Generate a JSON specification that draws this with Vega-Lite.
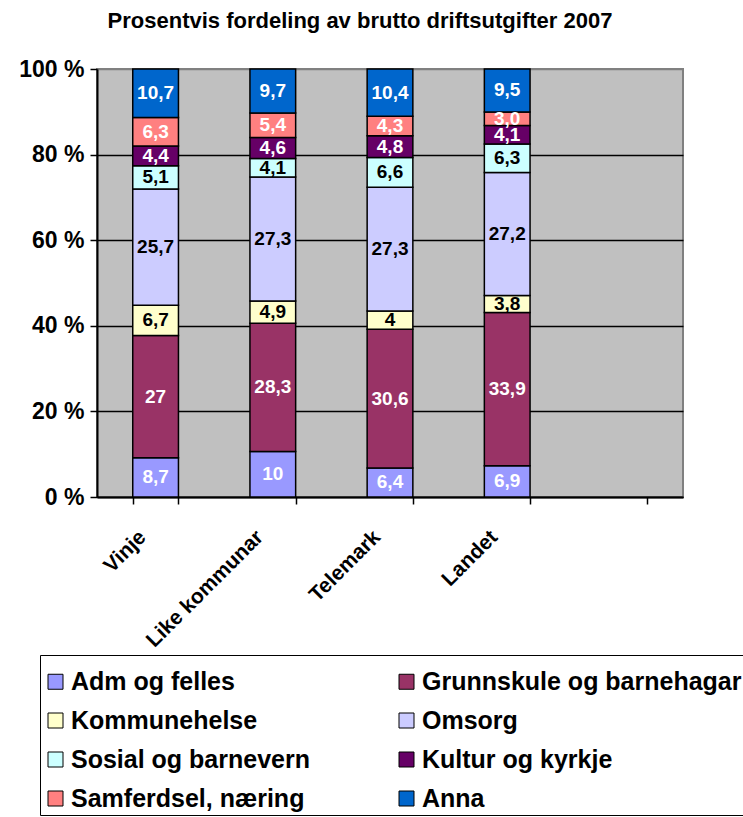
{
  "$schema": "https://vega.github.io/schema/vega-lite/v6.json",
  "autosize": "none",
  "width": 586,
  "height": 428,
  "padding": {"left": 97, "top": 69, "right": 60, "bottom": 320},
  "background": "white",
  "config": {
    "font": "Liberation Sans",
    "view": {"fill": "#C0C0C0", "stroke": "#808080", "strokeWidth": 2}
  },
  "title": {
    "text": "Prosentvis fordeling av brutto driftsutgifter 2007",
    "font": "Liberation Sans",
    "fontSize": 22,
    "fontWeight": "bold",
    "color": "black",
    "anchor": "middle",
    "dx": -30,
    "offset": 25
  },
  "data": {
    "values": [
      {"region": "Vinje", "cat": "Adm og felles", "k": 1, "v": 8.7, "label": "8,7"},
      {"region": "Vinje", "cat": "Grunnskule og barnehagar", "k": 2, "v": 27, "label": "27"},
      {"region": "Vinje", "cat": "Kommunehelse", "k": 3, "v": 6.7, "label": "6,7"},
      {"region": "Vinje", "cat": "Omsorg", "k": 4, "v": 25.7, "label": "25,7"},
      {"region": "Vinje", "cat": "Sosial og barnevern", "k": 5, "v": 5.1, "label": "5,1"},
      {"region": "Vinje", "cat": "Kultur og kyrkje", "k": 6, "v": 4.4, "label": "4,4"},
      {"region": "Vinje", "cat": "Samferdsel, næring", "k": 7, "v": 6.3, "label": "6,3"},
      {"region": "Vinje", "cat": "Anna", "k": 8, "v": 10.7, "label": "10,7"},
      {"region": "Like kommunar", "cat": "Adm og felles", "k": 1, "v": 10, "label": "10"},
      {"region": "Like kommunar", "cat": "Grunnskule og barnehagar", "k": 2, "v": 28.3, "label": "28,3"},
      {"region": "Like kommunar", "cat": "Kommunehelse", "k": 3, "v": 4.9, "label": "4,9"},
      {"region": "Like kommunar", "cat": "Omsorg", "k": 4, "v": 27.3, "label": "27,3"},
      {"region": "Like kommunar", "cat": "Sosial og barnevern", "k": 5, "v": 4.1, "label": "4,1"},
      {"region": "Like kommunar", "cat": "Kultur og kyrkje", "k": 6, "v": 4.6, "label": "4,6"},
      {"region": "Like kommunar", "cat": "Samferdsel, næring", "k": 7, "v": 5.4, "label": "5,4"},
      {"region": "Like kommunar", "cat": "Anna", "k": 8, "v": 9.7, "label": "9,7"},
      {"region": "Telemark", "cat": "Adm og felles", "k": 1, "v": 6.4, "label": "6,4"},
      {"region": "Telemark", "cat": "Grunnskule og barnehagar", "k": 2, "v": 30.6, "label": "30,6"},
      {"region": "Telemark", "cat": "Kommunehelse", "k": 3, "v": 4, "label": "4"},
      {"region": "Telemark", "cat": "Omsorg", "k": 4, "v": 27.3, "label": "27,3"},
      {"region": "Telemark", "cat": "Sosial og barnevern", "k": 5, "v": 6.6, "label": "6,6"},
      {"region": "Telemark", "cat": "Kultur og kyrkje", "k": 6, "v": 4.8, "label": "4,8"},
      {"region": "Telemark", "cat": "Samferdsel, næring", "k": 7, "v": 4.3, "label": "4,3"},
      {"region": "Telemark", "cat": "Anna", "k": 8, "v": 10.4, "label": "10,4"},
      {"region": "Landet", "cat": "Adm og felles", "k": 1, "v": 6.9, "label": "6,9"},
      {"region": "Landet", "cat": "Grunnskule og barnehagar", "k": 2, "v": 33.9, "label": "33,9"},
      {"region": "Landet", "cat": "Kommunehelse", "k": 3, "v": 3.8, "label": "3,8"},
      {"region": "Landet", "cat": "Omsorg", "k": 4, "v": 27.2, "label": "27,2"},
      {"region": "Landet", "cat": "Sosial og barnevern", "k": 5, "v": 6.3, "label": "6,3"},
      {"region": "Landet", "cat": "Kultur og kyrkje", "k": 6, "v": 4.1, "label": "4,1"},
      {"region": "Landet", "cat": "Samferdsel, næring", "k": 7, "v": 3.0, "label": "3,0"},
      {"region": "Landet", "cat": "Anna", "k": 8, "v": 9.5, "label": "9,5"}
    ]
  },
  "encoding": {
    "x": {
      "field": "region",
      "type": "nominal",
      "sort": null,
      "scale": {
        "domain": ["Vinje", "Like kommunar", "Telemark", "Landet", " "],
        "paddingInner": 0.61,
        "paddingOuter": 0.305
      },
      "axis": {
        "title": null,
        "labelAngle": -45,
        "labelFont": "Liberation Sans",
        "labelFontSize": 21,
        "labelFontWeight": "bold",
        "labelColor": "black",
        "labelPadding": 22,
        "labelOffset": -21,
        "tickBand": "extent",
        "tickColor": "black",
        "tickSize": 7,
        "tickWidth": 1.5,
        "domainColor": "black",
        "domainWidth": 2,
        "grid": false
      }
    },
    "y": {
      "field": "v",
      "type": "quantitative",
      "stack": "normalize",
      "scale": {"domain": [0, 1], "nice": false},
      "axis": {
        "title": null,
        "values": [0, 0.2, 0.4, 0.6, 0.8, 1],
        "labelExpr": "format(datum.value * 100, 'd') + ' %'",
        "labelFont": "Liberation Sans",
        "labelFontSize": 23,
        "labelFontWeight": "bold",
        "labelColor": "black",
        "labelPadding": 6,
        "tickColor": "black",
        "tickSize": 7,
        "tickWidth": 1.5,
        "domainColor": "black",
        "domainWidth": 2,
        "grid": true,
        "gridColor": {"condition": {"test": "datum.value === 1", "value": "#808080"}, "value": "black"},
        "gridWidth": 1.5
      }
    },
    "order": {"field": "k", "type": "quantitative", "sort": "ascending"}
  },
  "layer": [
    {
      "mark": {"type": "bar", "stroke": "black", "strokeWidth": 1.5},
      "encoding": {
        "color": {
          "field": "cat",
          "type": "nominal",
          "sort": null,
          "scale": {
            "domain": ["Adm og felles", "Grunnskule og barnehagar", "Kommunehelse", "Omsorg", "Sosial og barnevern", "Kultur og kyrkje", "Samferdsel, næring", "Anna"],
            "range": ["#9999FF", "#993366", "#FFFFCC", "#CCCCFF", "#CCFFFF", "#660066", "#FF8080", "#0066CC"]
          },
          "legend": {
            "title": " ",
            "titleFontSize": 2,
            "titlePadding": 9,
            "orient": "none",
            "legendX": -57,
            "legendY": 586,
            "direction": "horizontal",
            "columns": 2,
            "columnPadding": 84,
            "rowPadding": 13,
            "padding": 3,
            "strokeColor": "black",
            "symbolType": "square",
            "symbolSize": 225,
            "symbolStrokeColor": "black",
            "symbolStrokeWidth": 1,
            "symbolOffset": 0,
            "labelFont": "Liberation Sans",
            "labelFontSize": 25,
            "labelFontWeight": "bold",
            "labelColor": "black",
            "labelOffset": 3,
            "labelLimit": 400
          }
        }
      }
    },
    {
      "mark": {"type": "text", "font": "Liberation Sans", "fontSize": 19, "fontWeight": "bold", "baseline": "middle"},
      "encoding": {
        "y": {"field": "v", "type": "quantitative", "stack": "normalize", "bandPosition": 0.5},
        "text": {"field": "label"},
        "color": {
          "condition": {"test": "indexof(['Kommunehelse', 'Omsorg', 'Sosial og barnevern'], datum.cat) >= 0", "value": "black"},
          "value": "white"
        }
      }
    }
  ]
}
